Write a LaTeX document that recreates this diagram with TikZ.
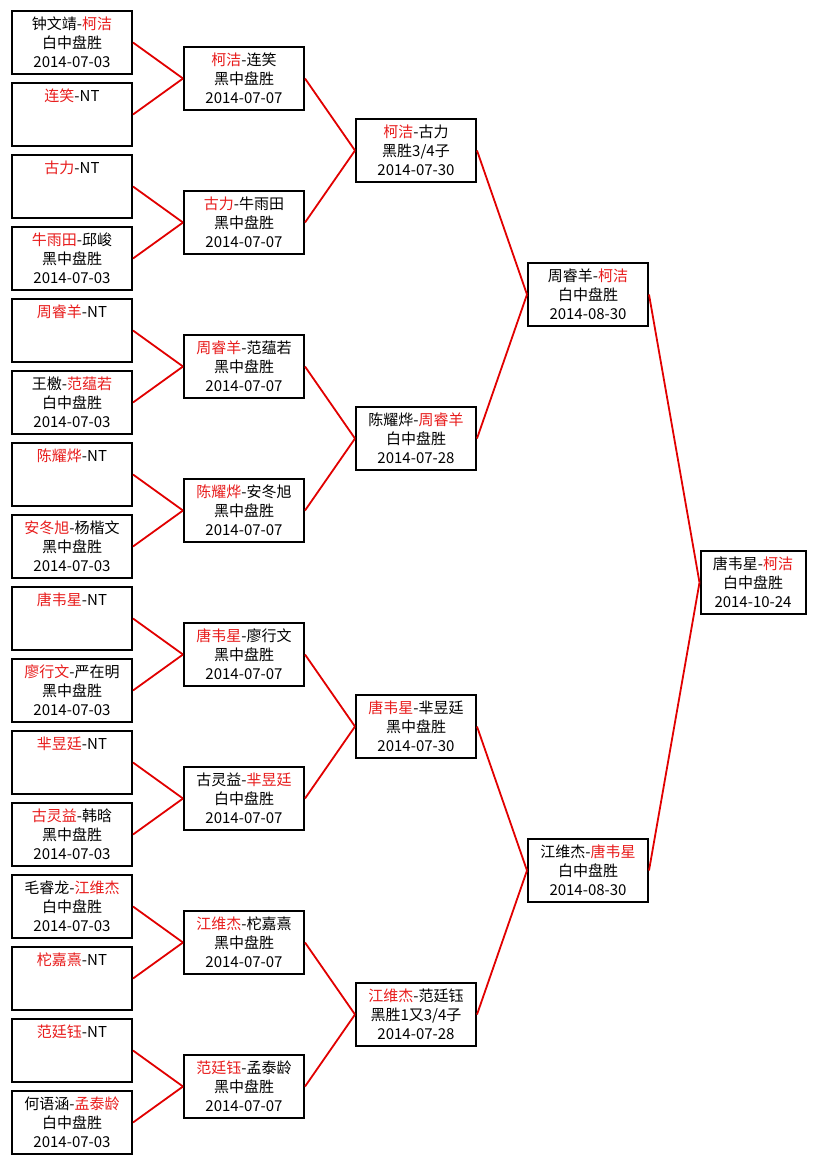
\documentclass[tikz,border=0pt]{standalone}
\usepackage{fontspec}
\newfontfamily\cjk{Noto Sans CJK SC}
\definecolor{winred}{RGB}{232,28,28}
\definecolor{linkred}{RGB}{225,0,0}
\newcommand\R[1]{\textcolor{winred}{#1}}
\newcommand\blankln{\vphantom{国2014}}
\begin{document}
\begin{tikzpicture}[x=1pt,y=-1pt,
  box/.style={draw=black, line width=2pt, fill=white, minimum width=120pt, minimum height=63pt,
    inner sep=0pt, align=center, font=\cjk\fontsize{15}{19}\selectfont},
  finalbox/.style={box, minimum width=105pt},
  link/.style={draw=linkred, line width=1.8pt}]
\useasboundingbox[fill=white] (0,0) rectangle (816,1165);
% round 1
\node[box] (a1)  at (72,42.5)  {钟文靖-\R{柯洁}\\白中盘胜\\2014-07-03};
\node[box] (a2)  at (72,114.5) {\R{连笑}-NT\\\blankln\\\blankln};
\node[box] (a3)  at (72,186.5) {\R{古力}-NT\\\blankln\\\blankln};
\node[box] (a4)  at (72,258.5) {\R{牛雨田}-邱峻\\黑中盘胜\\2014-07-03};
\node[box] (a5)  at (72,330.5) {\R{周睿羊}-NT\\\blankln\\\blankln};
\node[box] (a6)  at (72,402.5) {王檄-\R{范蕴若}\\白中盘胜\\2014-07-03};
\node[box] (a7)  at (72,474.5) {\R{陈耀烨}-NT\\\blankln\\\blankln};
\node[box] (a8)  at (72,546.5) {\R{安冬旭}-杨楷文\\黑中盘胜\\2014-07-03};
\node[box] (a9)  at (72,618.5) {\R{唐韦星}-NT\\\blankln\\\blankln};
\node[box] (a10) at (72,690.5) {\R{廖行文}-严在明\\黑中盘胜\\2014-07-03};
\node[box] (a11) at (72,762.5) {\R{芈昱廷}-NT\\\blankln\\\blankln};
\node[box] (a12) at (72,834.5) {\R{古灵益}-韩晗\\黑中盘胜\\2014-07-03};
\node[box] (a13) at (72,906.5) {毛睿龙-\R{江维杰}\\白中盘胜\\2014-07-03};
\node[box] (a14) at (72,978.5) {\R{柁嘉熹}-NT\\\blankln\\\blankln};
\node[box] (a15) at (72,1050.5) {\R{范廷钰}-NT\\\blankln\\\blankln};
\node[box] (a16) at (72,1122.5) {何语涵-\R{孟泰龄}\\白中盘胜\\2014-07-03};
% round 2
\node[box] (b1) at (244,78.5)  {\R{柯洁}-连笑\\黑中盘胜\\2014-07-07};
\node[box] (b2) at (244,222.5) {\R{古力}-牛雨田\\黑中盘胜\\2014-07-07};
\node[box] (b3) at (244,366.5) {\R{周睿羊}-范蕴若\\黑中盘胜\\2014-07-07};
\node[box] (b4) at (244,510.5) {\R{陈耀烨}-安冬旭\\黑中盘胜\\2014-07-07};
\node[box] (b5) at (244,654.5) {\R{唐韦星}-廖行文\\黑中盘胜\\2014-07-07};
\node[box] (b6) at (244,798.5) {古灵益-\R{芈昱廷}\\白中盘胜\\2014-07-07};
\node[box] (b7) at (244,942.5) {\R{江维杰}-柁嘉熹\\黑中盘胜\\2014-07-07};
\node[box] (b8) at (244,1086.5) {\R{范廷钰}-孟泰龄\\黑中盘胜\\2014-07-07};
% round 3
\node[box] (c1) at (416,150.5) {\R{柯洁}-古力\\黑胜3/4子\\2014-07-30};
\node[box] (c2) at (416,438.5) {陈耀烨-\R{周睿羊}\\白中盘胜\\2014-07-28};
\node[box] (c3) at (416,726.5) {\R{唐韦星}-芈昱廷\\黑中盘胜\\2014-07-30};
\node[box] (c4) at (416,1014.5) {\R{江维杰}-范廷钰\\黑胜1又3/4子\\2014-07-28};
% round 4
\node[box] (d1) at (588,294.5) {周睿羊-\R{柯洁}\\白中盘胜\\2014-08-30};
\node[box] (d2) at (588,870.5) {江维杰-\R{唐韦星}\\白中盘胜\\2014-08-30};
% final
\node[finalbox] (e1) at (753,582.5) {唐韦星-\R{柯洁}\\白中盘胜\\2014-10-24};
% connectors
\foreach \p/\c in {b1/a1,b1/a2,b2/a3,b2/a4,b3/a5,b3/a6,b4/a7,b4/a8,b5/a9,b5/a10,b6/a11,b6/a12,b7/a13,b7/a14,b8/a15,b8/a16,
  c1/b1,c1/b2,c2/b3,c2/b4,c3/b5,c3/b6,c4/b7,c4/b8,d1/c1,d1/c2,d2/c3,d2/c4,e1/d1,e1/d2}
  \draw[link] (\c.east) -- (\p.west);
\end{tikzpicture}
\end{document}
